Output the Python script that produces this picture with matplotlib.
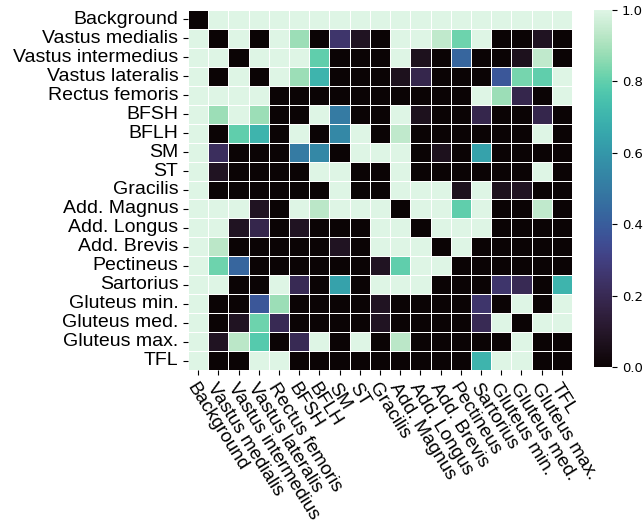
import numpy as np
import matplotlib
matplotlib.use("Agg")
import matplotlib.pyplot as plt
import seaborn as sns

# Muscle labels (rows and columns)
labels = ["Background", "Vastus medialis", "Vastus intermedius", "Vastus lateralis",
          "Rectus femoris", "BFSH", "BFLH", "SM", "ST", "Gracilis", "Add. Magnus",
          "Add. Longus", "Add. Brevis", "Pectineus", "Sartorius", "Gluteus min.",
          "Gluteus med.", "Gluteus max.", "TFL"]

# One row of the matrix per muscle
row_background = [0, 1, 1, 1, 1, 1, 1, 1, 1, 1, 1, 1, 1, 1, 1, 1, 1, 1, 1]
row_vmed  = [1, 0, 1, 0, 1, 0.88, 0, 0.25, 0.08, 0, 1, 1, 0.94, 0.82, 1, 0, 0, 0.08, 0]
row_vint  = [1, 1, 0, 1, 1, 1, 0.8, 0, 0, 0, 1, 0.07, 0, 0.43, 0, 0, 0.07, 0.94, 0]
row_vlat  = [1, 0, 1, 0, 1, 0.88, 0.7, 0, 0, 0, 0.07, 0.18, 0, 0, 0, 0.38, 0.83, 0.8, 1]
row_rf    = [1, 1, 1, 1, 0, 0, 0, 0, 0, 0, 0, 0, 0, 0, 1, 0.88, 0.18, 0, 1]
row_bfsh  = [1, 0.88, 1, 0.88, 0, 0, 1, 0.5, 0, 0, 1, 0.07, 0, 0, 0.18, 0, 0, 0.18, 0]
row_bflh  = [1, 0, 0.8, 0.7, 0, 1, 0, 0.55, 1, 0, 0.94, 0, 0, 0, 0, 0, 0, 1, 0]
row_sm    = [1, 0.22, 0, 0, 0, 0.5, 0.55, 0, 1, 1, 1, 0, 0.07, 0, 0.64, 0, 0, 0, 0]
row_st    = [1, 0.08, 0, 0, 0, 0, 1, 1, 0, 0, 1, 0, 0, 0, 0, 0, 0, 1, 0]
row_grac  = [1, 0, 0, 0, 0, 0, 0, 1, 0, 0, 1, 1, 1, 0.07, 1, 0.07, 0.08, 0, 0]
row_amag  = [1, 1, 1, 0.08, 0, 1, 0.93, 1, 1, 1, 0, 1, 1, 0.8, 1, 0, 0, 0.94, 0]
row_alon  = [1, 1, 0.08, 0.18, 0, 0.08, 0, 0, 0, 1, 1, 0, 1, 1, 1, 0, 0, 0, 0]
row_abre  = [1, 0.93, 0, 0, 0, 0, 0, 0.08, 0, 1, 1, 1, 0, 1, 0, 0, 0, 0, 0]
row_pect  = [1, 0.82, 0.43, 0, 0, 0, 0, 0, 0, 0.08, 0.8, 1, 1, 0, 0, 0, 0, 0, 0]
row_sart  = [1, 1, 0, 0, 1, 0.2, 0, 0.64, 0, 1, 1, 1, 0, 0, 0, 0.25, 0.2, 0, 0.7]
row_gmin  = [1, 0, 0, 0.38, 0.88, 0, 0, 0, 0, 0.08, 0, 0, 0, 0, 0.25, 0, 1, 0, 1]
row_gmed  = [1, 0, 0.08, 0.82, 0.2, 0, 0, 0, 0, 0.08, 0, 0, 0, 0, 0.2, 1, 0, 1, 1]
row_gmax  = [1, 0.08, 0.93, 0.78, 0, 0.2, 1, 0, 1, 0, 0.93, 0, 0, 0, 0, 0, 1, 0, 0]
row_tfl   = [1, 0, 0, 1, 1, 0, 0, 0, 0, 0, 0, 0, 0, 0, 0.7, 1, 1, 0, 0]

matrix = np.array([row_background, row_vmed, row_vint, row_vlat, row_rf, row_bfsh,
                   row_bflh, row_sm, row_st, row_grac, row_amag, row_alon, row_abre,
                   row_pect, row_sart, row_gmin, row_gmed, row_gmax, row_tfl])

plt.rcParams["font.family"] = ["Liberation Sans", "DejaVu Sans"]

fig = plt.figure(figsize=(6.43, 5.25), dpi=100)
ax = fig.add_axes([188 / 643, 155 / 525, 384 / 643, 360 / 525])
cax = fig.add_axes([594 / 643, 158 / 525, 18 / 643, 357 / 525])

sns.heatmap(matrix, ax=ax, cbar_ax=cax, cmap="mako", vmin=0, vmax=1,
            linewidths=0.5, linecolor="white",
            xticklabels=labels, yticklabels=labels)

ax.set_yticklabels(labels, rotation=0, fontsize=14)
ax.set_xticklabels(labels, rotation=-58, ha="left", rotation_mode="anchor", fontsize=13.5)

# Colorbar ticks in the default font
cax.set_yticks([0, 0.2, 0.4, 0.6, 0.8, 1.0])
for lbl in cax.get_yticklabels():
    lbl.set_fontfamily("DejaVu Sans")
    lbl.set_fontsize(9.5)

fig.savefig("out.png", dpi=100)
